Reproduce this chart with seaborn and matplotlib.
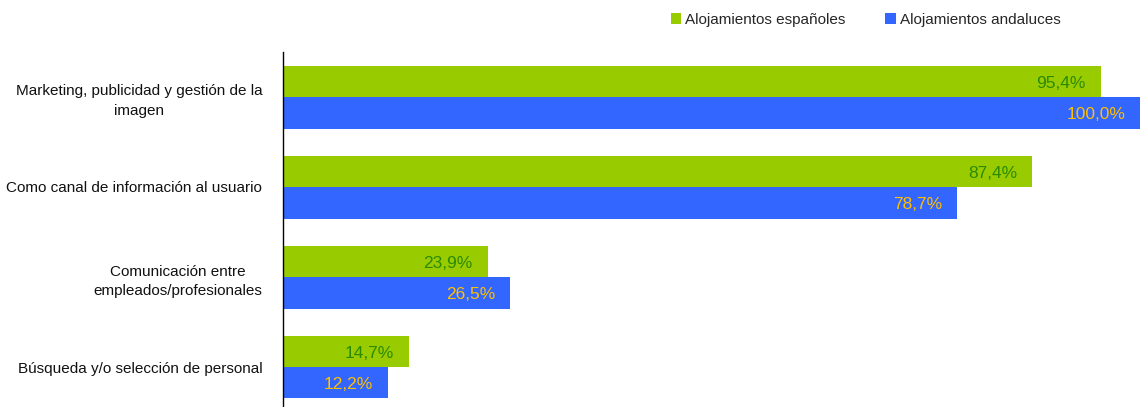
import matplotlib
matplotlib.use("Agg")
import matplotlib.pyplot as plt
from matplotlib.patches import Patch
import seaborn as sns
import pandas as pd

categorias = [
    "Marketing, publicidad y gestión de la\nimagen",
    "Como canal de información al usuario",
    "Comunicación entre\nempleados/profesionales",
    "Búsqueda y/o selección de personal",
]
series = ["Alojamientos españoles", "Alojamientos andaluces"]
espanoles = [95.4, 87.4, 23.9, 14.7]
andaluces = [100.0, 78.7, 26.5, 12.2]

colores_barra = ["#99CC00", "#3366FF"]
colores_etiqueta = ["#2A8A00", "#FFC000"]

df = pd.DataFrame({
    "categoria": categorias * 2,
    "serie": [series[0]] * 4 + [series[1]] * 4,
    "valor": espanoles + andaluces,
})

sns.set_theme(style="white")
plt.rcParams["font.family"] = ["Liberation Sans", "DejaVu Sans"]

W, H = 1140, 407
fig = plt.figure(figsize=(W / 100, H / 100), dpi=100)
ax = fig.add_axes([283 / W, 0, (W - 283) / W, (H - 52) / H])

sns.barplot(
    data=df, y="categoria", x="valor", hue="serie", orient="h",
    order=categorias, hue_order=series, palette=colores_barra,
    width=0.7, saturation=1, legend=False, linewidth=0, ax=ax,
)

ax.set_xlim(0, 100)
ax.set_ylim(3.5 - 5 / 90, -0.5)
ax.set_xlabel("")
ax.set_ylabel("")
ax.set_xticks([])
for s in ["top", "right", "bottom"]:
    ax.spines[s].set_visible(False)
ax.spines["left"].set_color("black")
ax.spines["left"].set_linewidth(1.0)
ax.tick_params(axis="y", length=0, pad=15, labelsize=11, labelcolor="#111111")
for lbl in ax.get_yticklabels():
    lbl.set_multialignment("center")
    lbl.set_linespacing(1.5)

valores = [espanoles, andaluces]
for cont, vals, col in zip(ax.containers, valores, colores_etiqueta):
    for bar, v in zip(cont, vals):
        y = bar.get_y() + bar.get_height() / 2
        ax.annotate(
            f"{v:.1f}".replace(".", ",") + "%",
            xy=(v, y), xytext=(-15, -2), textcoords="offset pixels",
            ha="right", va="center", fontsize=12.5, color=col,
            annotation_clip=False,
        )

handles = [Patch(facecolor=c, edgecolor="none") for c in colores_barra]
fig.legend(
    handles, series, loc="upper left", bbox_to_anchor=(660 / W, 1 - 2 / H),
    ncol=2, frameon=False, fontsize=11, handlelength=0.7, handleheight=0.7,
    handletextpad=0.25, columnspacing=2.6, borderpad=0.2,
)

fig.savefig("out.png", dpi=100)
